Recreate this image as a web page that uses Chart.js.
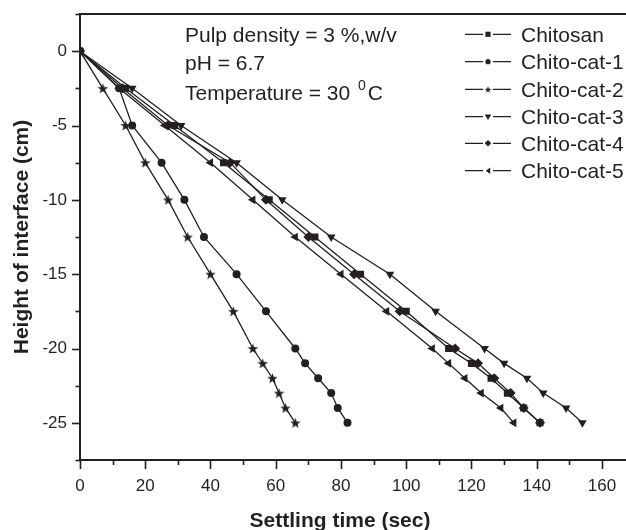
<!DOCTYPE html>
<html><head><meta charset="utf-8">
<script src="https://cdn.jsdelivr.net/npm/chart.js@4"></script>
<style>html,body{margin:0;padding:0;overflow:hidden;background:#fff}#wrap{width:640px;height:530px}</style>
</head><body><div id="wrap"><canvas id="c" width="640" height="530"></canvas></div>
<script>
// ---- data ----
const heights = [0,-2.5,-5,-7.5,-10,-12.5,-15,-17.5,-20,-21,-22,-23,-24,-25];
const seriesNames = ['Chitosan','Chito-cat-1','Chito-cat-2','Chito-cat-3','Chito-cat-4','Chito-cat-5'];
const chitosanTime = [0,14,29,44,58,72,86,100,113,120,126,131,136,141];
const chitoCat1Time = [0,12,16,25,32,38,48,57,66,69,73,77,79,82];
const chitoCat2Time = [0,7,14,20,27,33,40,47,53,56,59,61,63,66];
const chitoCat3Time = [0,16,31,48,62,77,95,109,124,130,137,142,149,154];
const chitoCat4Time = [0,13,27,46,57,70,84,98,115,122,127,132,136,141];
const chitoCat5Time = [0,12,26,40,53,66,80,94,108,113,118,123,129,133];
const xTickValues = [0,20,40,60,80,100,120,140,160];
const yTickValues = [0,-5,-10,-15,-20,-25];
const annotationLines = ['Pulp density = 3 %,w/v','pH = 6.7'];
const tempText = ['Temperature = 30 ','0','C'];
const xTitle = 'Settling time (sec)';
const yTitle = 'Height of interface (cm)';

const INK = '#231f20';
const FONT = '"Liberation Sans", Arial, Helvetica, sans-serif';

function makeStar(size){
  const c=document.createElement('canvas'); c.width=size; c.height=size;
  const g=c.getContext('2d'); const cx=size/2, cy=size/2+0.5, R=size/2, r=R*0.42;
  g.beginPath();
  for(let i=0;i<10;i++){const a=-Math.PI/2+i*Math.PI/5; const rr=i%2?r:R; g.lineTo(cx+rr*Math.cos(a), cy+rr*Math.sin(a));}
  g.closePath(); g.fillStyle=INK; g.fill(); return c;
}
const starBig = makeStar(11);
const starSmall = makeStar(7);

const styles = [
  {pointStyle:'rect', radius:5, rotation:0},
  {pointStyle:'circle', radius:4, rotation:0},
  {pointStyle:starBig, radius:5, rotation:0},
  {pointStyle:'triangle', radius:5, rotation:180},
  {pointStyle:'rectRot', radius:5, rotation:0},
  {pointStyle:'triangle', radius:5, rotation:-90}
];
const allTimes = [chitosanTime, chitoCat1Time, chitoCat2Time, chitoCat3Time, chitoCat4Time, chitoCat5Time];

const datasets = allTimes.map((times, k) => ({
  label: seriesNames[k],
  data: times.map((t,i)=>({x:t, y:heights[i]})),
  borderColor: INK, backgroundColor: INK, borderWidth: 1.3,
  pointStyle: styles[k].pointStyle, pointRadius: styles[k].radius,
  pointRotation: styles[k].rotation, pointBorderWidth: 0,
  pointBackgroundColor: INK, tension: 0, fill: false
}));

function legendMarker(ctx, k, x, y){
  ctx.save(); ctx.fillStyle = INK; ctx.beginPath();
  const s = 2.6;
  if(k===0){ ctx.rect(x-s, y-s, 2*s, 2*s); ctx.fill(); }
  else if(k===1){ ctx.arc(x, y, s, 0, Math.PI*2); ctx.fill(); }
  else if(k===2){ ctx.drawImage(starSmall, x-3.5, y-3.5); }
  else if(k===3){ ctx.moveTo(x-3.2, y-2.2); ctx.lineTo(x+3.2, y-2.2); ctx.lineTo(x, y+3.2); ctx.closePath(); ctx.fill(); }
  else if(k===4){ ctx.moveTo(x, y-3.3); ctx.lineTo(x+3.3, y); ctx.lineTo(x, y+3.3); ctx.lineTo(x-3.3, y); ctx.closePath(); ctx.fill(); }
  else { ctx.moveTo(x-2.2, y); ctx.lineTo(x+2.2, y-3.2); ctx.lineTo(x+2.2, y+3.2); ctx.closePath(); ctx.fill(); }
  ctx.restore();
}

const decor = {
  id: 'decor',
  afterDraw(chart){
    const ctx = chart.ctx, ca = chart.chartArea;
    const xs = chart.scales.x, ys = chart.scales.y;
    ctx.save();
    ctx.strokeStyle = INK; ctx.fillStyle = INK;
    // top frame line
    ctx.lineWidth = 2;
    ctx.beginPath(); ctx.moveTo(ca.left-1, ca.top); ctx.lineTo(chart.width, ca.top); ctx.stroke();
    // tick marks
    ctx.lineWidth = 1.6;
    for(let v=0; v<=170; v+=10){
      const px = Math.round(xs.getPixelForValue(v))+0.5;
      const len = (v%20===0)?9:5;
      ctx.beginPath(); ctx.moveTo(px, ca.bottom); ctx.lineTo(px, ca.bottom+len); ctx.stroke();
    }
    for(let v=2.5; v>=-27.5; v-=2.5){
      const py = Math.round(ys.getPixelForValue(v))+0.5;
      const len = (Math.abs(v%5)<1e-9)?8:4.5;
      ctx.beginPath(); ctx.moveTo(ca.left, py); ctx.lineTo(ca.left-len, py); ctx.stroke();
    }
    // annotation text
    ctx.font = '21px ' + FONT; ctx.textBaseline = 'alphabetic'; ctx.textAlign = 'left';
    ctx.fillText(annotationLines[0], 185, 41.5);
    ctx.fillText(annotationLines[1], 185, 69.5);
    ctx.fillText(tempText[0], 185, 100);
    let w = ctx.measureText(tempText[0]).width;
    ctx.font = '14px ' + FONT;
    ctx.fillText(tempText[1], 185 + w + 2, 90);
    const w2 = ctx.measureText(tempText[1]).width;
    ctx.font = '21px ' + FONT;
    ctx.fillText(tempText[2], 185 + w + w2 + 4, 100);
    // legend
    const rows = [34.3, 61.7, 89.3, 116.7, 143.3, 170.7];
    seriesNames.forEach((name, k) => {
      const y = rows[k];
      ctx.lineWidth = 1.3;
      ctx.beginPath(); ctx.moveTo(465, y); ctx.lineTo(483, y); ctx.moveTo(493, y); ctx.lineTo(511, y); ctx.stroke();
      legendMarker(ctx, k, 488, y);
      ctx.font = '21px ' + FONT;
      ctx.fillText(name, 521, y + 7.5);
    });
    // x axis title
    ctx.font = 'bold 21px ' + FONT; ctx.textAlign = 'center';
    ctx.fillText(xTitle, 340, 527);
    ctx.restore();
  }
};

new Chart(document.getElementById('c'), {
  type: 'line',
  data: { datasets },
  plugins: [decor],
  options: {
    responsive: false, animation: false, devicePixelRatio: 1,
    layout: { padding: { top: 14, right: 5.4, left: 0, bottom: 0 } },
    plugins: { legend: { display: false }, tooltip: { enabled: false } },
    scales: {
      x: {
        type: 'linear', position: 'bottom', min: 0, max: 170,
        afterFit: s => { s.height = 70; s.paddingLeft = 0; s.paddingRight = 0; },
        afterBuildTicks: s => { s.ticks = xTickValues.map(v => ({value: v})); },
        grid: { display: false, drawTicks: false },
        border: { display: true, color: INK, width: 2 },
        ticks: { color: INK, font: { family: FONT, size: 17 }, padding: 16, autoSkip: false, maxRotation: 0 }
      },
      y: {
        type: 'linear', position: 'left', min: -27.5, max: 2.5,
        afterFit: s => { s.width = 80; s.paddingTop = 0; s.paddingBottom = 0; },
        afterBuildTicks: s => { s.ticks = yTickValues.map(v => ({value: v})); },
        grid: { display: false, drawTicks: false },
        border: { display: true, color: INK, width: 2 },
        ticks: { color: INK, font: { family: FONT, size: 17 }, padding: 13, autoSkip: false },
        title: { display: true, text: yTitle, color: INK, font: { family: FONT, size: 21, weight: 'bold' }, padding: { top: 10, bottom: 0 } }
      }
    }
  }
});
</script>
</body></html>
